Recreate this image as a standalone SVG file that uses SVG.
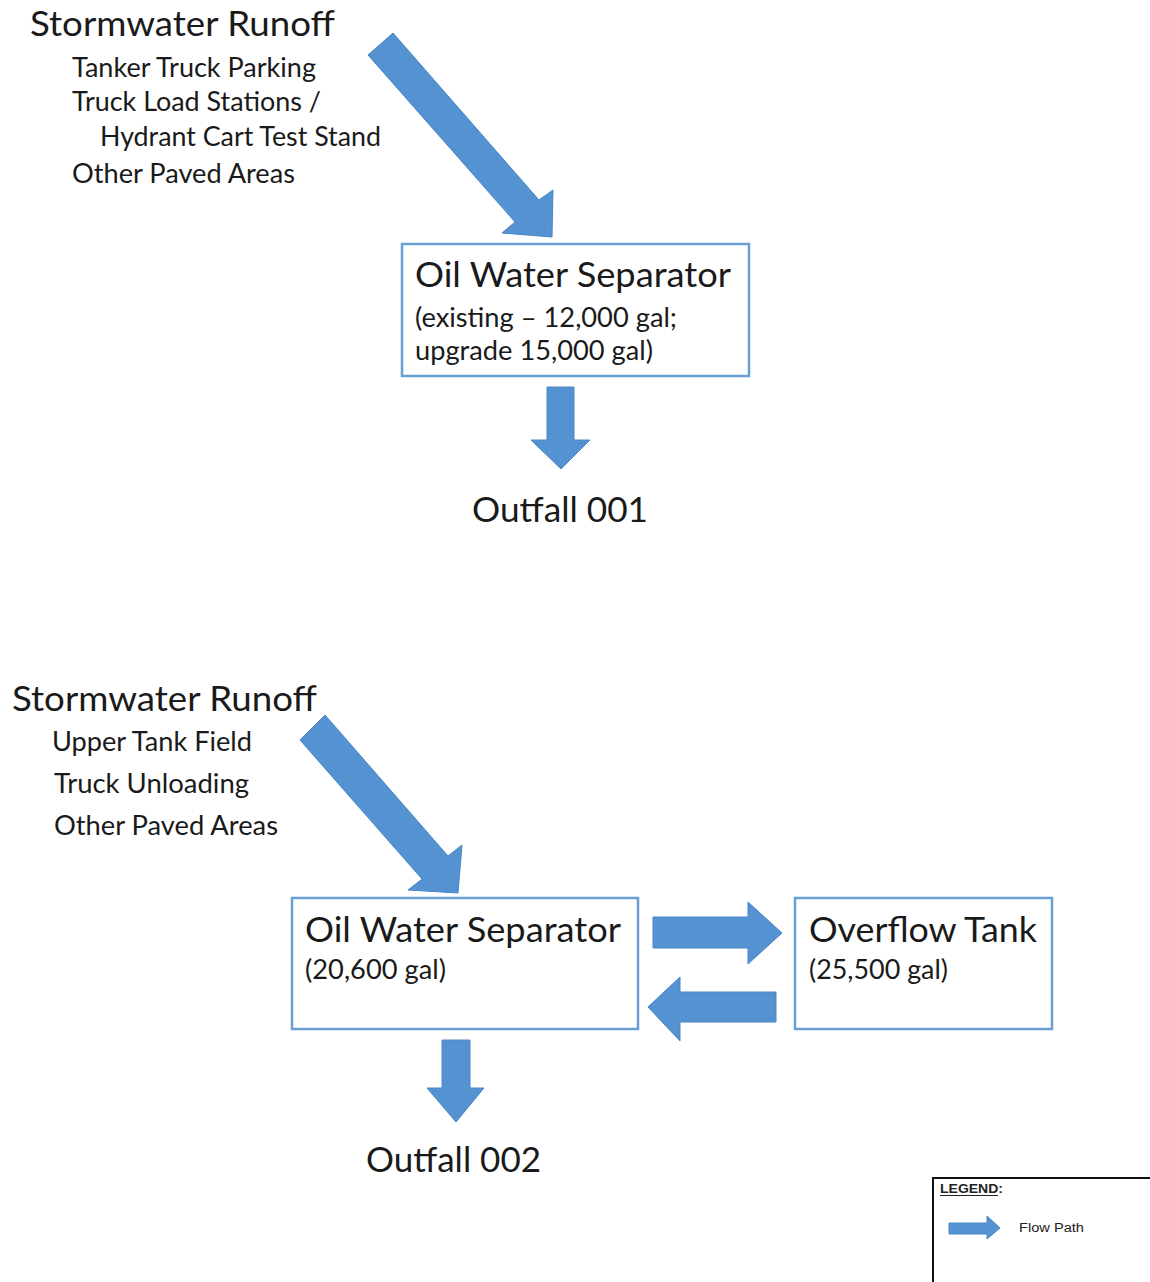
<svg xmlns="http://www.w3.org/2000/svg" width="1150" height="1282" viewBox="0 0 1150 1282">
<style>
.h{font-family:Lato,"Open Sans","Liberation Sans",sans-serif;font-size:35px;fill:#1a1a1a}
.s{font-family:Lato,"Open Sans","Liberation Sans",sans-serif;font-size:26px;fill:#1a1a1a}
.b{font-family:Lato,"Open Sans","Liberation Sans",sans-serif;font-size:27px;fill:#1a1a1a}
.box{fill:#ffffff;stroke:#6a9fd4;stroke-width:2.5}
.arr{fill:#5592d2;stroke:#4a86c6;stroke-width:1}
.lg{font-family:"Liberation Sans",Arial,sans-serif;font-size:12px;fill:#222}
</style>
<rect x="0" y="0" width="1150" height="1282" fill="#ffffff"/>

<g id="src1">
<text class="h" x="30" y="36" textLength="305" lengthAdjust="spacingAndGlyphs">Stormwater Runoff</text>
<text class="s" x="72" y="77" textLength="244" lengthAdjust="spacingAndGlyphs">Tanker Truck Parking</text>
<text class="s" x="72" y="111" textLength="249" lengthAdjust="spacingAndGlyphs">Truck Load Stations /</text>
<text class="s" x="100" y="146" textLength="281" lengthAdjust="spacingAndGlyphs">Hydrant Cart Test Stand</text>
<text class="s" x="72" y="183" textLength="223" lengthAdjust="spacingAndGlyphs">Other Paved Areas</text>
</g>

<g id="ows1">
<rect class="box" x="402" y="244" width="347" height="132"/>
<text class="h" x="415" y="287" textLength="316" lengthAdjust="spacingAndGlyphs">Oil Water Separator</text>
<text class="b" x="415" y="327" textLength="262" lengthAdjust="spacingAndGlyphs">(existing – 12,000 gal;</text>
<text class="b" x="415" y="360" textLength="238" lengthAdjust="spacingAndGlyphs">upgrade 15,000 gal)</text>
</g>

<g id="out1">
<text class="h" x="472" y="522" textLength="176" lengthAdjust="spacingAndGlyphs">Outfall 001</text>
</g>

<g id="src2">
<text class="h" x="12" y="711" textLength="305" lengthAdjust="spacingAndGlyphs">Stormwater Runoff</text>
<text class="s" x="52" y="751" textLength="200" lengthAdjust="spacingAndGlyphs">Upper Tank Field</text>
<text class="s" x="54" y="793" textLength="195" lengthAdjust="spacingAndGlyphs">Truck Unloading</text>
<text class="s" x="54" y="835" textLength="224" lengthAdjust="spacingAndGlyphs">Other Paved Areas</text>
</g>

<g id="ows2">
<rect class="box" x="292" y="898" width="346" height="131"/>
<text class="h" x="305" y="942" textLength="316" lengthAdjust="spacingAndGlyphs">Oil Water Separator</text>
<text class="b" x="305" y="979" textLength="141" lengthAdjust="spacingAndGlyphs">(20,600 gal)</text>
</g>

<g id="tank">
<rect class="box" x="795" y="898" width="257" height="131"/>
<text class="h" x="809" y="942" textLength="228" lengthAdjust="spacingAndGlyphs">Overflow Tank</text>
<text class="b" x="809" y="979" textLength="139" lengthAdjust="spacingAndGlyphs">(25,500 gal)</text>
</g>

<g id="out2">
<text class="h" x="366" y="1172" textLength="175" lengthAdjust="spacingAndGlyphs">Outfall 002</text>
</g>

<g id="connectors">
<polygon class="arr" points="393,33 539,200 553,190 552,237 502,233 515,222 368,55"/>
<polygon class="arr" points="547,387 574,387 574,440 590,440 561,469 531,440 547,440"/>
<polygon class="arr" points="325,715 448,856 462,845 458,893 408,890 422,879 300,740"/>
<polygon class="arr" points="653,917 748,917 748,902 782,933 748,964 748,948 653,948"/>
<polygon class="arr" points="776,992 680,992 680,977 648,1007 680,1041 680,1022 776,1022"/>
<polygon class="arr" points="442,1040 470,1040 470,1088 484,1088 456,1122 427,1088 442,1088"/>
</g>

<g id="legend">
<rect x="933" y="1178" width="230" height="120" fill="#ffffff" stroke="#111" stroke-width="2"/>
<text class="lg" x="940" y="1193" textLength="63" lengthAdjust="spacingAndGlyphs" font-weight="bold">LEGEND:</text>
<line x1="940" y1="1195.5" x2="998" y2="1195.5" stroke="#222" stroke-width="1"/>
<polygon class="arr" points="949,1223 987,1223 987,1216 1000,1228 987,1239 987,1234 949,1234"/>
<text class="lg" x="1019" y="1232" textLength="65" lengthAdjust="spacingAndGlyphs">Flow Path</text>
</g>
</svg>
